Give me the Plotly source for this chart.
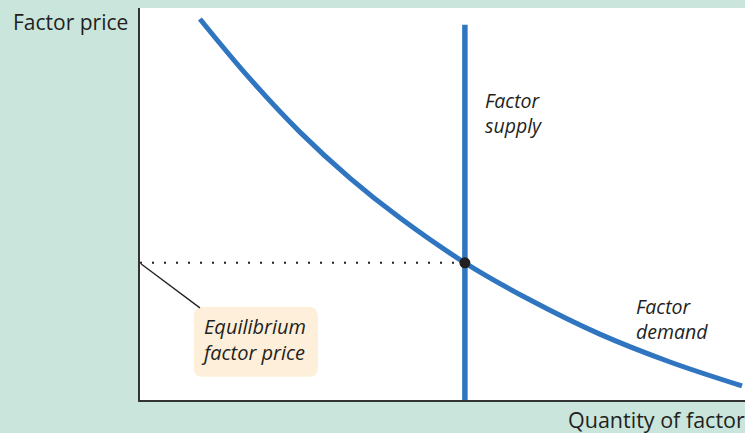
import plotly.graph_objects as go

# ---- data ----
demand_q = [9.9, 18.2, 26.4, 34.7, 43.0, 53.7, 64.5, 76.0, 87.6, 99.5]
demand_p = [97.2, 81.9, 68.4, 56.6, 46.4, 35.0, 25.5, 16.8, 9.7, 3.6]

supply_q = [53.7, 53.7]
supply_p = [0.0, 95.7]

eq_q = [53.7]
eq_p = [35.0]

price_line_q = [0.0, 53.7]
price_line_p = [35.0, 35.0]

# ---- style ----
BG = "#c9e5dc"
BLUE = "#2f75c0"
INK = "#231f20"
BOX = "#fdefd9"
FONT = "Open Sans"

fig = go.Figure()

fig.add_trace(go.Scatter(x=price_line_q, y=price_line_p, mode="lines",
                         line=dict(color=INK, width=2, dash="2px,10px"),
                         hoverinfo="skip", showlegend=False))
fig.add_trace(go.Scatter(x=demand_q, y=demand_p, mode="lines",
                         line=dict(color=BLUE, width=5, shape="spline", smoothing=1.0),
                         showlegend=False))
fig.add_trace(go.Scatter(x=supply_q, y=supply_p, mode="lines",
                         line=dict(color=BLUE, width=5.5),
                         showlegend=False))
fig.add_trace(go.Scatter(x=eq_q, y=eq_p, mode="markers",
                         marker=dict(color=INK, size=11),
                         showlegend=False))

# rounded label box
x0, x1, y0, y1 = 8.9, 29.4, 5.9, 23.7
rx, ry = 1.5, 2.4
path = (f"M {x0+rx},{y0} L {x1-rx},{y0} Q {x1},{y0} {x1},{y0+ry} "
        f"L {x1},{y1-ry} Q {x1},{y1} {x1-rx},{y1} "
        f"L {x0+rx},{y1} Q {x0},{y1} {x0},{y1-ry} "
        f"L {x0},{y0+ry} Q {x0},{y0} {x0+rx},{y0} Z")
fig.add_shape(type="path", path=path, fillcolor=BOX, line=dict(width=0), layer="below")
# leader line
fig.add_shape(type="line", x0=0.2, y0=34.7, x1=9.9, y1=23.5,
              line=dict(color=INK, width=1.3))

annos = [
    dict(text="Factor<br>supply", x=56.7, y=73.1, xanchor="left", yanchor="middle",
         align="left", font=dict(family=FONT, size=19.5, color=INK, style="italic")),
    dict(text="Factor<br>demand", x=81.6, y=20.7, xanchor="left", yanchor="middle",
         align="left", font=dict(family=FONT, size=19.5, color=INK, style="italic")),
    dict(text="Equilibrium<br>factor price", x=9.8, y=15.4, xanchor="left", yanchor="middle",
         align="left", font=dict(family=FONT, size=20, color=INK, style="italic")),
]
for a in annos:
    fig.add_annotation(showarrow=False, xref="x", yref="y", **a)

fig.add_annotation(text="Factor price", xref="paper", yref="paper", x=-0.016, y=0.964,
                   xanchor="right", yanchor="middle", showarrow=False,
                   font=dict(family=FONT, size=21, color=INK))
fig.add_annotation(text="Quantity of factor", xref="paper", yref="paper", x=1.003, y=-0.051,
                   xanchor="right", yanchor="middle", showarrow=False,
                   font=dict(family=FONT, size=21.5, color=INK))

axis = dict(range=[0, 100], showgrid=False, zeroline=False, showticklabels=False,
            ticks="", showline=True, linecolor="#333333", linewidth=1.5, fixedrange=True)
fig.update_layout(
    width=745, height=433,
    margin=dict(l=140, r=0, t=8, b=33, pad=0),
    paper_bgcolor=BG, plot_bgcolor="white",
    xaxis=axis, yaxis=axis,
    showlegend=False,
)

fig.write_html("out.html", config={"displayModeBar": False},
               post_script="document.body.style.margin='0';document.body.style.overflow='hidden';")
